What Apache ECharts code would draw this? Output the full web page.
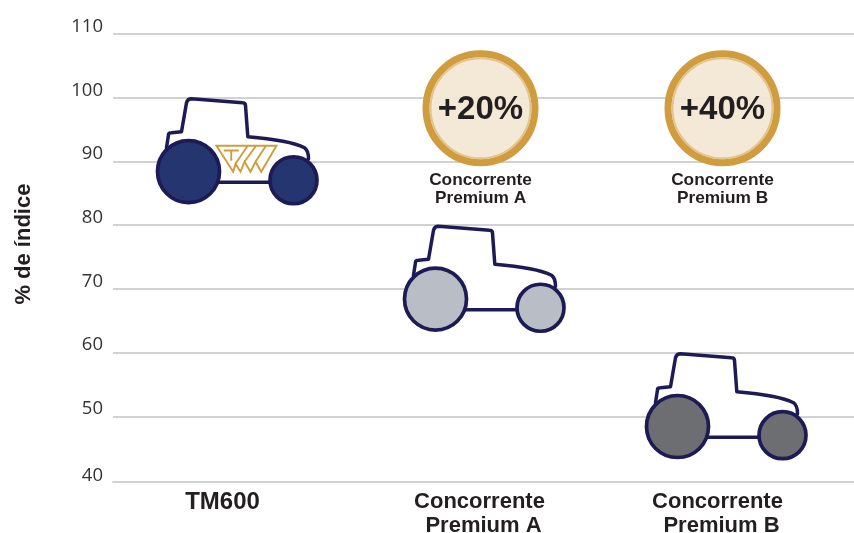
<!DOCTYPE html>
<html><head><meta charset="utf-8">
<style>html,body{margin:0;padding:0;background:#fff}#c{width:854px;height:533px}</style>
<script src="https://cdn.jsdelivr.net/npm/echarts@6/dist/echarts.min.js"></script>
</head><body><div id="c"></div>
<script>
const categories = ['TM600', 'Concorrente Premium A', 'Concorrente Premium B'];
const tractorTops = [100, 80, 60];
const badgeValues = [null, 98.35, 98.35];
const badgeTexts = [null, '+20%', '+40%'];
const badgeNames = [null, ['Concorrente', 'Premium A'], ['Concorrente', 'Premium B']];
const wheelColors = ['#243570', '#b9bdc6', '#6d6e72'];
const FONT = '"Liberation Sans", Arial, sans-serif';
const TICKFONT = '"Open Sans", sans-serif';
const NAVY = '#1d1b56', GOLD = '#d09c3e', INK = '#231f20', GRID = '#d2d2d2';
const xNudge = [0, 0, -5];

const BODY = 'M-70 50 L-68 37 Q-68 35 -65 35 L-55 34 L-50 5 Q-49 1 -45 1 L6 5 Q9 5 9 8 L11.3 39 C35 41 58 45 68 50 Q72 53 72 61 L57 84.5 L-48 84.5 Z';
const LOGO = 'M-20 48 L40 48 L24.7 74 L19 64 L14 74 L8 64 L4 74 L-1 66 L-3.3 74 Z M-1 66 L10.7 48.7 M8 64 L19 48.7 M19 64 L29 48.7 M-12.7 52.7 L2.3 52.7 M-5.3 52.7 L-5.3 63';

function tractor(params, api) {
  const i = params.dataIndex;
  const p = api.coord([i, api.value(1)]);
  const children = [
    { type: 'path', shape: { pathData: BODY }, style: { fill: '#fff', stroke: NAVY, lineWidth: 3.5, lineJoin: 'round' } },
    { type: 'circle', shape: { cx: -48, cy: 73.8, r: 31 }, style: { fill: wheelColors[i], stroke: NAVY, lineWidth: 3.7 } },
    { type: 'circle', shape: { cx: 57, cy: 82.5, r: 23.5 }, style: { fill: wheelColors[i], stroke: NAVY, lineWidth: 3.7 } }
  ];
  if (i === 0) children.splice(1, 0, { type: 'path', shape: { pathData: LOGO }, style: { fill: null, stroke: GOLD, lineWidth: 1.9 } });
  return { type: 'group', x: p[0] + xNudge[i], y: p[1], children };
}
function badge(params, api) {
  const i = params.dataIndex;
  if (badgeValues[i] == null) return null;
  const p = api.coord([i, api.value(1)]);
  const names = badgeNames[i];
  return { type: 'group', x: p[0] + xNudge[i] - 3, y: p[1], children: [
    { type: 'circle', shape: { cx: 0, cy: 0, r: 54.5 }, style: { fill: 'rgba(243,230,211,0.93)', stroke: GOLD, lineWidth: 7 } },
    { type: 'circle', shape: { cx: 0, cy: 0, r: 50 }, style: { fill: null, stroke: '#e2c48e', lineWidth: 2 } },
    { type: 'text', x: 0, y: 1.5, style: { text: badgeTexts[i], font: 'bold 33px ' + FONT, fill: INK, align: 'center', verticalAlign: 'middle' } },
    { type: 'text', x: 0, y: 71.5, style: { text: names[0], font: 'bold 17.3px ' + FONT, fill: INK, align: 'center', verticalAlign: 'middle' } },
    { type: 'text', x: 0, y: 89.5, style: { text: names[1], font: 'bold 17.3px ' + FONT, fill: INK, align: 'center', verticalAlign: 'middle' } }
  ]};
}
const lab = (pad, size) => ({ fontFamily: FONT, fontWeight: 'bold', fontSize: size || 22, color: INK, padding: pad, lineHeight: 24 });
const chart = echarts.init(document.getElementById('c'), null, { renderer: 'canvas' });
chart.setOption({
  animation: false,
  backgroundColor: '#fff',
  grid: { left: 113, right: 0, top: 34, bottom: 52.8, outerBoundsMode: 'none', containLabel: false },
  xAxis: {
    type: 'category', data: categories, offset: 2,
    axisLine: { show: true, lineStyle: { color: GRID, width: 2 } }, axisTick: { show: false },
    axisLabel: {
      interval: 0, margin: 8, hideOverlap: false,
      formatter: (v, i) => i === 0 ? '{t|TM600}'
        : '{' + (i === 1 ? 'a' : 'c') + '|Concorrente}\n{' + (i === 1 ? 'b' : 'd') + '|' + v.replace('Concorrente ', '') + '}',
      rich: { t: lab([0, 28, 0, 0], 24), a: lab([0, 8, 0, 0]), b: lab([0, 0, 0, 0]), c: lab([0, 26, 0, 0]), d: lab([0, 18, 0, 0]) }
    }
  },
  yAxis: {
    type: 'value', min: 40, max: 110, interval: 10,
    name: '% de índice', nameLocation: 'middle', nameGap: 78,
    nameTextStyle: { fontWeight: 'bold', fontSize: 22, fontFamily: FONT, color: INK, padding: [0, 0, 0, 26] },
    axisLine: { show: false }, axisTick: { show: false },
    axisLabel: {
      margin: 10, fontFamily: TICKFONT, fontSize: 18.5, color: '#333', verticalAlign: 'bottom', lineHeight: 15,
      formatter: (v) => v === 40 ? '{low|40}' : String(v),
      rich: { low: { fontFamily: TICKFONT, fontSize: 18.5, color: '#333', lineHeight: 8 } }
    },
    splitLine: { show: true, showMinLine: false, lineStyle: { color: GRID, width: 2 } }
  },
  series: [
    { type: 'custom', coordinateSystem: 'cartesian2d', clip: false, renderItem: tractor, data: tractorTops.map((v, i) => [i, v]), encode: { x: 0, y: 1 } },
    { type: 'custom', coordinateSystem: 'cartesian2d', clip: false, renderItem: badge, data: badgeValues.map((v, i) => [i, v]), encode: { x: 0, y: 1 } }
  ]
});
</script></body></html>
